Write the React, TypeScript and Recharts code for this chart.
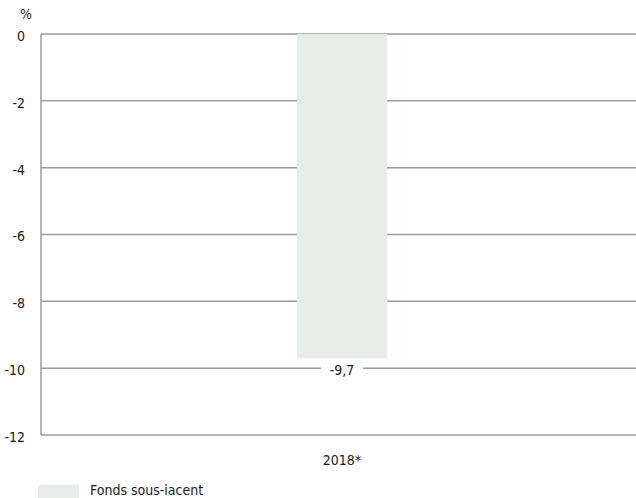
import React from 'react';
import { BarChart, Bar, XAxis, YAxis, CartesianGrid, LabelList } from 'recharts';

const categories = ['2018*'];
const fondsValues = [-9.7];
const yTicks = [0, -2, -4, -6, -8, -10, -12];
const seriesName = 'Fonds sous-iacent';

const data = categories.map((year, i) => ({ year, fonds: fondsValues[i] }));

const FONT = '"DejaVu Sans Condensed", "Liberation Sans Narrow", sans-serif';
const BAR_COLOR = '#e6ede9';
const GRID_COLOR = '#9b9b9b';
const TEXT_COLOR = '#1a1a1a';

const ValueLabel = (props: any) => {
  const { x, y, width, height, value } = props;
  const cx = Number(x) + Number(width) / 2;
  const bottom = Math.max(Number(y), Number(y) + Number(height));
  const txt = String(value).replace('.', ',');
  return (
    <g>
      <rect x={cx - 21} y={bottom + 2} width={42} height={20} fill="#ffffff" />
      <text x={cx} y={bottom + 17} textAnchor="middle" fontSize={14} fill={TEXT_COLOR} fontFamily={FONT}>
        {txt}
      </text>
    </g>
  );
};

export default function App() {
  return (
    <div style={{ position: 'absolute', left: 0, top: 0, width: 636, height: 498, overflow: 'hidden', background: '#fff', fontFamily: FONT }}>
      <div style={{ position: 'absolute', left: 20, top: 6, fontSize: 14, lineHeight: '16px', color: TEXT_COLOR }}>%</div>
      <BarChart
        width={650}
        height={478}
        data={data}
        margin={{ top: 34, right: 7, bottom: 0, left: 0 }}
        barCategoryGap={0}
      >
        <CartesianGrid vertical={false} stroke={GRID_COLOR} strokeWidth={1.5} />
        <XAxis
          dataKey="year"
          height={43}
          tickLine={false}
          axisLine={false}
          tick={{ fontSize: 14, fill: TEXT_COLOR, fontFamily: FONT }}
          tickMargin={14}
        />
        <YAxis
          width={41}
          domain={[-12, 0]}
          ticks={yTicks}
          interval={0}
          tickLine={false}
          axisLine={{ stroke: GRID_COLOR, strokeWidth: 1.5 }}
          tick={{ fontSize: 14, fill: TEXT_COLOR, fontFamily: FONT, dy: 2 }}
          tickSize={0}
          tickMargin={16}
        />
        <Bar dataKey="fonds" name={seriesName} fill={BAR_COLOR} barSize={90} isAnimationActive={false}>
          <LabelList dataKey="fonds" content={ValueLabel} />
        </Bar>
      </BarChart>
      <div style={{ position: 'absolute', left: 38, top: 483, height: 15, display: 'flex', alignItems: 'flex-end', fontSize: 14, lineHeight: '16px', color: TEXT_COLOR }}>
        <span style={{ display: 'inline-block', width: 41, height: 13, background: BAR_COLOR, marginRight: 11 }} />
        <span>{seriesName}</span>
      </div>
    </div>
  );
}
